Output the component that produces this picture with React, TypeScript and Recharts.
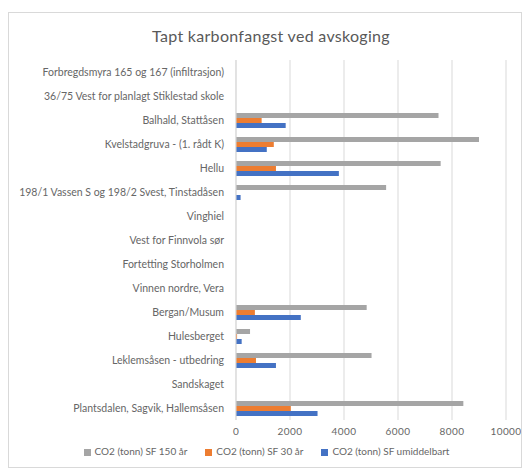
import { BarChart, Bar, XAxis, YAxis, CartesianGrid, Legend } from 'recharts';

const categories = [
  'Forbregdsmyra 165 og 167 (infiltrasjon)',
  '36/75 Vest for planlagt Stiklestad skole',
  'Balhald, Stattåsen',
  'Kvelstadgruva - (1. rådt K)',
  'Hellu',
  '198/1 Vassen S og 198/2 Svest, Tinstadåsen',
  'Vinghiel',
  'Vest for Finnvola sør',
  'Fortetting Storholmen',
  'Vinnen nordre, Vera',
  'Bergan/Musum',
  'Hulesberget',
  'Leklemsåsen - utbedring',
  'Sandskaget',
  'Plantsdalen, Sagvik, Hallemsåsen',
];

const sf150 = [0, 0, 7500, 9000, 7580, 5560, 0, 0, 0, 0, 4840, 520, 5020, 0, 8420];
const sf30 = [0, 0, 950, 1400, 1480, 0, 0, 0, 0, 0, 700, 40, 740, 0, 2030];
const umiddelbart = [0, 0, 1840, 1140, 3810, 170, 0, 0, 0, 0, 2400, 210, 1480, 0, 3020];

const xTicks = [0, 2000, 4000, 6000, 8000, 10000];

const data = categories.map((name, i) => ({
  name,
  sf150: sf150[i],
  sf30: sf30[i],
  umiddelbart: umiddelbart[i],
}));

const FONT = 'Lato, "Open Sans", sans-serif';
const TEXT = '#666666';

// single-line category label, no wrapping
const CategoryTick = (props: any) => (
  <text
    x={props.x}
    y={props.y}
    dy={3.5}
    textAnchor="end"
    fill={TEXT}
    fontSize={10.5}
    fontFamily={FONT}
  >
    {props.payload.value}
  </text>
);

export default function App() {
  return (
    <div
      style={{
        position: 'relative',
        width: 512,
        height: 454,
        marginTop: 4,
        border: '1px solid #d9d9d9',
        background: '#fff',
        fontFamily: FONT,
      }}
    >
      <div
        style={{
          position: 'absolute',
          top: 13,
          left: 0,
          width: 524,
          textAlign: 'center',
          fontSize: 16,
          letterSpacing: 0.3,
          color: '#595959',
        }}
      >
        Tapt karbonfangst ved avskoging
      </div>
      <BarChart
        width={512}
        height={454}
        data={data}
        layout="vertical"
        margin={{ top: 47, right: 15, bottom: 17, left: 0 }}
        barGap={0}
        barSize={5}
      >
        <CartesianGrid horizontal={false} stroke="#d9d9d9" />
        <XAxis
          type="number"
          domain={[0, 10000]}
          ticks={xTicks}
          axisLine={false}
          tickLine={false}
          tick={{ fontSize: 10, fill: TEXT, fontFamily: FONT, letterSpacing: 0.4 }}
          height={18}
        />
        <YAxis
          type="category"
          dataKey="name"
          width={227}
          axisLine={{ stroke: '#d9d9d9' }}
          tickLine={false}
          tickSize={0}
          tickMargin={12}
          interval={0}
          tick={<CategoryTick />}
        />
        <Legend
          verticalAlign="bottom"
          iconType="square"
          iconSize={7}
          formatter={(value: string) => (
            <span style={{ color: TEXT, marginRight: 8 }}>{value}</span>
          )}
          wrapperStyle={{ fontSize: 10, fontFamily: FONT, left: 18, bottom: 10 }}
        />
        <Bar dataKey="sf150" name="CO2 (tonn) SF 150 år" fill="#a5a5a5" isAnimationActive={false} />
        <Bar dataKey="sf30" name="CO2 (tonn) SF 30 år" fill="#ed7d31" isAnimationActive={false} />
        <Bar dataKey="umiddelbart" name="CO2 (tonn) SF umiddelbart" fill="#4472c4" isAnimationActive={false} />
      </BarChart>
    </div>
  );
}
